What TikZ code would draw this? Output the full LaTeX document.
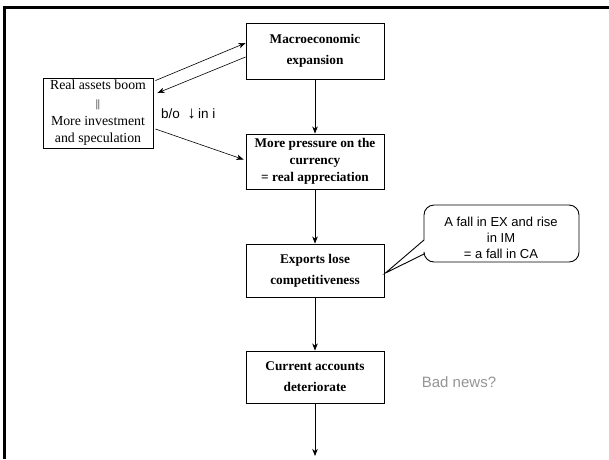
\documentclass[tikz,border=0pt]{standalone}
\usepackage{fontspec}
\setmainfont{Liberation Serif}
\newfontfamily\arialfont{Liberation Sans}
\usetikzlibrary{arrows.meta,calc}

\tikzset{
  stagebox/.style={draw, line width=0.9pt, inner sep=0pt, align=center,
    minimum width=138pt, font=\bfseries\fontsize{13.3}{21}\selectfont},
  sidebox/.style={draw, line width=0.9pt, inner sep=0pt, align=center,
    minimum width=110pt, minimum height=70pt, font=\fontsize{13.8}{17.7}\selectfont},
  flow/.style={line width=0.8pt, -{Stealth[length=7pt,width=5.5pt,inset=2pt]}},
  thin flow/.style={line width=0.6pt, -{Stealth[length=7pt,width=5.5pt,inset=2pt]}},
  note/.style={font=\arialfont\fontsize{13}{16}\selectfont, align=center},
}

\begin{document}
\begin{tikzpicture}[x=1pt,y=-1pt]
\useasboundingbox (0,0) rectangle (609,459);

% slide frame (top and left edges)
\draw[line width=3pt] (4.5,459) -- (4.5,7.5) -- (609,7.5);

% main chain
\node[stagebox, minimum height=56pt] (macro) at (315,51) {Macroeconomic\\expansion};
\node[stagebox, minimum height=55pt, font=\bfseries\fontsize{13.3}{17}\selectfont] (pressure) at (315,161.5)
  {More pressure on the\\currency\\= real appreciation};
\node[stagebox, minimum height=53pt] (exports) at (315,270.5) {Exports lose\\competitiveness};
\node[stagebox, minimum height=52pt] (current) at (315,377) {Current accounts\\deteriorate};
\coordinate (next) at (315,456);

% side box
\node[sidebox] (real) at (98,113)
  {Real assets boom\\{\fontsize{11}{11}\selectfont ||}\\More investment\\and speculation};

\node[font=\arialfont\fontsize{13.5}{16}\selectfont, anchor=west, inner sep=0pt] (bo) at (161,114)
  {b/o\ \ {\fontsize{17}{16}\selectfont\raisebox{-0.5pt}{↓}}\,in i};

% connectors
\draw[thin flow] ($(real.north east)+(2,3)$) -- ($(macro.west)+(0,-8)$);
\draw[thin flow] ($(macro.west)+(0,6)$) -- ($(real.east)+(4,-20)$);
\draw[thin flow] ($(real.east)+(2,16)$) -- ($(pressure.west)+(-2,-2)$);

\draw[flow] (macro.south) -- (pressure.north);
\draw[flow] (pressure.south) -- (exports.north);
\draw[flow] (exports.south) -- (current.north);
\draw[flow] (current.south) -- (next);

% speech callout
\coordinate (tip) at ($(exports.east)+(1,2.5)$);
\draw[line width=0.9pt, fill=white]
  (424,254) [rounded corners=10pt] -- (424,262) -- (579,262) -- (579,205) -- (424,205)
  [sharp corners] -- (424,240) -- (tip) -- cycle;
\node[note] (callout) at (501,237.5) {A fall in EX and rise\\in IM\\= a fall in CA};

\node[font=\arialfont\fontsize{15}{18}\selectfont, text=black!42, inner sep=0pt] (bad) at (459,382) {Bad news?};
\end{tikzpicture}
\end{document}
